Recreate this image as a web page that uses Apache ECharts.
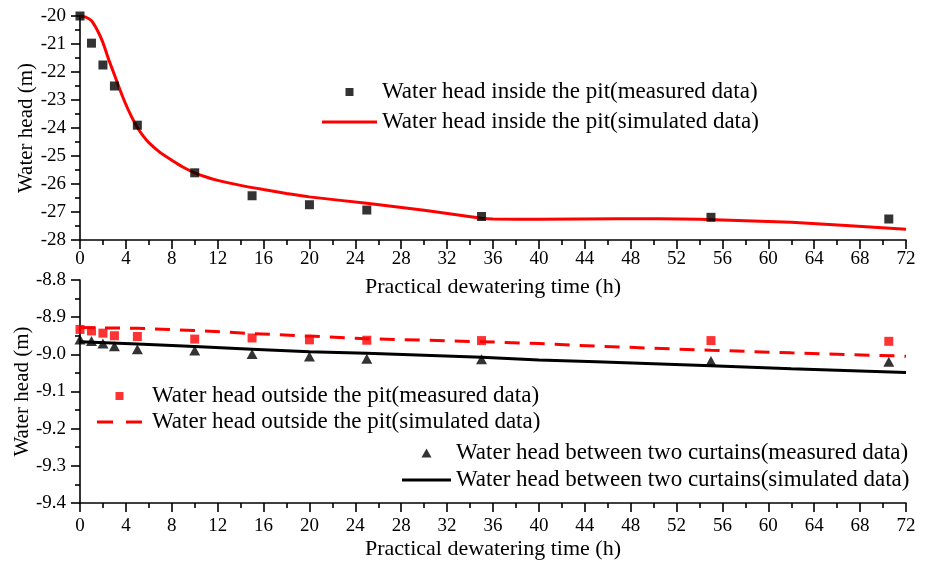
<!DOCTYPE html>
<html>
<head>
<meta charset="utf-8">
<script src="https://cdn.jsdelivr.net/npm/echarts@6/dist/echarts.min.js"></script>
<style>
  html, body { margin: 0; padding: 0; background: #fff; }
  #chart { width: 930px; height: 562px; }
</style>
</head>
<body>
<div id="chart"></div>
<script>
// Time axis ticks (h) shared by both panels
const timeTicks = [0, 4, 8, 12, 16, 20, 24, 28, 32, 36, 40, 44, 48, 52, 56, 60, 64, 68, 72];
const insideTicks = [-28, -27, -26, -25, -24, -23, -22, -21, -20];
const outerTicks = [-9.4, -9.3, -9.2, -9.1, -9.0, -8.9, -8.8];

// Measurement times (h)
const timeMeasured = [0, 1, 2, 3, 5, 10, 15, 20, 25, 35, 55, 70.5];

// Upper panel: water head inside the pit
const insideMeasured = [-20.0, -20.97, -21.75, -22.5, -23.9, -25.6, -26.42, -26.74, -26.93, -27.16, -27.19, -27.25];
const insideSimTime = [0, 0.5, 1, 1.5, 2, 2.5, 3, 3.5, 4, 4.5, 5, 5.5, 6, 7, 8, 9, 10, 11, 12, 14, 16, 18, 20, 25, 30, 35, 36, 40, 47, 54, 62, 72];
const insideSim = [-20.0, -20.04, -20.17, -20.5, -20.95, -21.55, -22.1, -22.65, -23.16, -23.6, -23.98, -24.28, -24.52, -24.88, -25.15, -25.4, -25.6, -25.75, -25.87, -26.05, -26.2, -26.34, -26.46, -26.69, -26.94, -27.22, -27.25, -27.26, -27.24, -27.26, -27.37, -27.62];

// Lower panel: water head outside the pit and between the two curtains
const outsideMeasured = [-8.933, -8.937, -8.943, -8.950, -8.952, -8.959, -8.956, -8.961, -8.962, -8.963, -8.963, -8.965];
const betweenMeasured = [-8.960, -8.964, -8.971, -8.978, -8.986, -8.990, -8.999, -9.006, -9.012, -9.013, -9.018, -9.020];
const lowerSimTime = [0, 5, 10, 15, 20, 25, 35, 40, 45, 55, 62, 72];
const outsideSim = [-8.928, -8.930, -8.936, -8.944, -8.951, -8.958, -8.966, -8.971, -8.978, -8.989, -8.996, -9.005];
const betweenSim = [-8.966, -8.972, -8.979, -8.986, -8.993, -8.997, -9.008, -9.015, -9.020, -9.031, -9.039, -9.049];

const names = {
  inM: 'Water head inside the pit(measured data)',
  inS: 'Water head inside the pit(simulated data)',
  outM: 'Water head outside the pit(measured data)',
  outS: 'Water head outside the pit(simulated data)',
  btM: 'Water head between two curtains(measured data)',
  btS: 'Water head between two curtains(simulated data)'
};

const FONT = '"Liberation Serif", "Times New Roman", serif';
const RED = '#ff0000';
const pairs = (xs, ys) => xs.map((x, i) => [x, ys[i]]);

const lineBase = { show: true, onZero: false, lineStyle: { color: '#000', width: 1.6 } };
const tickBase = { show: true, inside: false, length: 9, lineStyle: { color: '#000', width: 1.6 } };
const minorBase = { show: true, splitNumber: 2, length: 5, lineStyle: { color: '#000', width: 1.6 } };

function timeAxis(gridIndex, labelMargin, nameGap) {
  return {
    type: 'value', gridIndex,
    min: timeTicks[0], max: timeTicks[timeTicks.length - 1],
    interval: timeTicks[1] - timeTicks[0],
    name: 'Practical dewatering time (h)',
    nameLocation: 'middle', nameGap, nameMoveOverlap: false,
    nameTextStyle: { fontFamily: FONT, fontSize: 22, color: '#000' },
    axisLine: lineBase, axisTick: tickBase, minorTick: minorBase,
    splitLine: { show: false },
    axisLabel: {
      color: '#000', fontFamily: FONT, fontSize: 19, margin: labelMargin,
      alignMinLabel: 'center', alignMaxLabel: 'center', hideOverlap: false
    }
  };
}

function headAxis(gridIndex, ticks, digits, nameGap) {
  return {
    type: 'value', gridIndex,
    min: ticks[0], max: ticks[ticks.length - 1],
    interval: +(ticks[1] - ticks[0]).toFixed(3),
    name: 'Water head (m)',
    nameLocation: 'middle', nameGap, nameMoveOverlap: false,
    nameTextStyle: { fontFamily: FONT, fontSize: 21, color: '#000' },
    axisLine: lineBase, axisTick: tickBase, minorTick: minorBase,
    splitLine: { show: false },
    axisLabel: {
      color: '#000', fontFamily: FONT, fontSize: 19, margin: 14,
      formatter: v => v.toFixed(digits)
    }
  };
}

const SQUARE = 'path://M0,0H1V1H0Z';
const TRIANGLE = 'path://M5,0L10,9H0Z';
const legendText = { fontFamily: FONT, fontSize: 23, color: '#000', lineHeight: 24 };

const option = {
  animation: false,
  backgroundColor: '#fff',
  grid: [
    { left: 80, right: 24, top: 16, height: 224 },
    { left: 80, right: 24, top: 280, height: 223 }
  ],
  xAxis: [timeAxis(0, 10, 36), timeAxis(1, 14, 35)],
  yAxis: [headAxis(0, insideTicks, 0, 43), headAxis(1, outerTicks, 1, 47)],
  legend: [
    {
      orient: 'vertical', left: 322, top: 80, padding: 0,
      itemWidth: 55, itemHeight: 8, itemGap: 6, selectedMode: false,
      symbolKeepAspect: true, textStyle: legendText,
      data: [
        { name: names.inM, icon: SQUARE },
        { name: names.inS, icon: 'path://M0,0H55V3H0Z' }
      ]
    },
    {
      orient: 'vertical', left: 97, top: 384, padding: 0,
      itemWidth: 45, itemHeight: 8, itemGap: 2, selectedMode: false,
      symbolKeepAspect: true, textStyle: Object.assign({ padding: [0, 0, 0, 5] }, legendText),
      data: [
        { name: names.outM, icon: SQUARE },
        { name: names.outS, icon: 'path://M0,0H16V3H0Z M29,0H45V3H29Z' }
      ]
    },
    {
      orient: 'vertical', left: 402, top: 441, padding: 0,
      itemWidth: 49, itemHeight: 9, itemGap: 3, selectedMode: false,
      symbolKeepAspect: true, textStyle: legendText,
      data: [
        { name: names.btM, icon: TRIANGLE },
        { name: names.btS, icon: 'path://M0,0H49V3H0Z' }
      ]
    }
  ],
  series: [
    {
      name: names.inS, type: 'line', xAxisIndex: 0, yAxisIndex: 0,
      data: pairs(insideSimTime, insideSim),
      smooth: 0.2, symbol: 'none',
      lineStyle: { color: RED, width: 3 }, itemStyle: { color: RED }, z: 2
    },
    {
      name: names.inM, type: 'scatter', xAxisIndex: 0, yAxisIndex: 0,
      data: pairs(timeMeasured, insideMeasured),
      symbol: 'rect', symbolSize: 9, itemStyle: { color: '#000' }, z: 3, clip: false
    },
    {
      name: names.outS, type: 'line', xAxisIndex: 1, yAxisIndex: 1,
      data: pairs(lowerSimTime, outsideSim), symbol: 'none',
      lineStyle: { color: RED, width: 3, type: [15, 10] }, itemStyle: { color: RED }, z: 2
    },
    {
      name: names.btS, type: 'line', xAxisIndex: 1, yAxisIndex: 1,
      data: pairs(lowerSimTime, betweenSim), symbol: 'none',
      lineStyle: { color: '#000', width: 3 }, itemStyle: { color: '#000' }, z: 2
    },
    {
      name: names.outM, type: 'scatter', xAxisIndex: 1, yAxisIndex: 1,
      data: pairs(timeMeasured, outsideMeasured),
      symbol: 'rect', symbolSize: 9, itemStyle: { color: RED }, z: 3
    },
    {
      name: names.btM, type: 'scatter', xAxisIndex: 1, yAxisIndex: 1,
      data: pairs(timeMeasured, betweenMeasured),
      symbol: 'triangle', symbolSize: [11, 10], itemStyle: { color: '#000' }, z: 3
    }
  ]
};

const chart = echarts.init(document.getElementById('chart'), null, { renderer: 'canvas' });
chart.setOption(option);
</script>
</body>
</html>
